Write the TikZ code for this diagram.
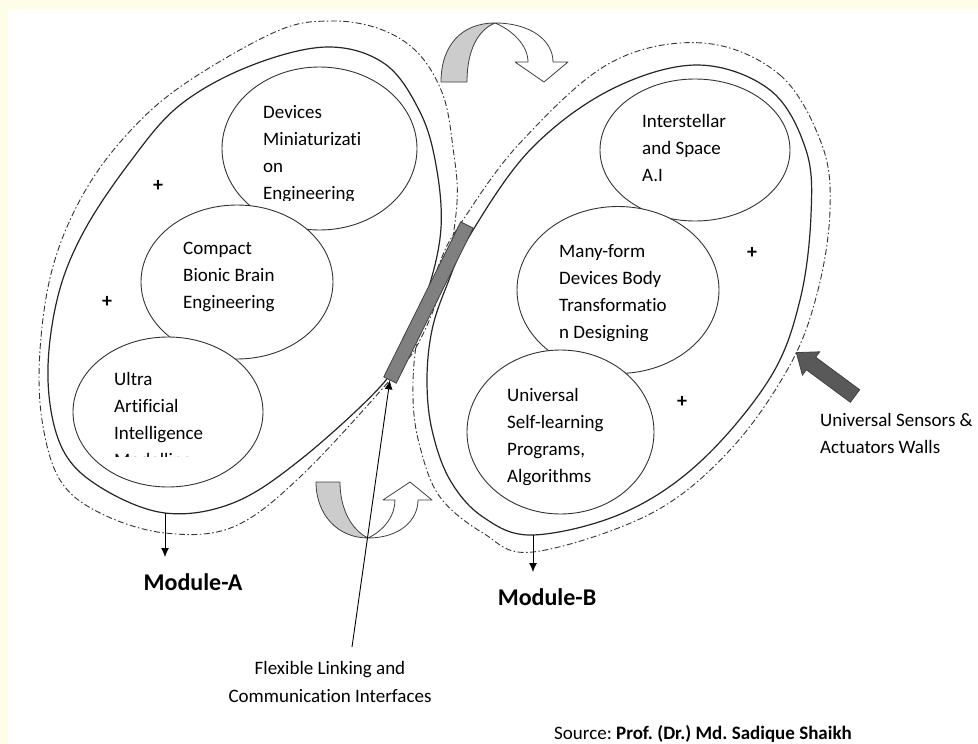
\documentclass[tikz,border=0pt]{standalone}
\usepackage{fontspec}
\setmainfont{Carlito}[Ligatures={NoCommon}]
\usetikzlibrary{arrows.meta,shapes.geometric}
\definecolor{cream}{RGB}{255,252,232}
\definecolor{barfill}{RGB}{128,128,128}
\definecolor{wallfill}{RGB}{89,89,89}
\definecolor{bandfill}{RGB}{204,204,204}
\definecolor{edge}{RGB}{64,64,64}
\newcommand{\ovaltext}[1]{\parbox[t]{150pt}{\raggedright #1}}
\frenchspacing

\tikzset{
  module/.style={line width=1.2pt, draw=black!85},
  wall/.style={line width=0.9pt, draw=black!80, dash pattern=on 6pt off 2.5pt on 1.5pt off 2.5pt},
  bubble/.style={ellipse, draw=black!80, fill=white, line width=0.9pt, inner sep=0pt},
  bubbletxt/.style={anchor=base west, inner sep=0pt, font=\fontsize{19}{27}\selectfont},
  plus/.style={font=\fontsize{20}{20}\selectfont\bfseries, inner sep=0pt},
  modlabel/.style={font=\fontsize{24}{28}\selectfont\bfseries, inner sep=0pt, anchor=base},
  note/.style={font=\fontsize{19}{27}\selectfont, inner sep=0pt},
  pointer/.style={line width=0.9pt, -{Latex[length=9pt,width=8pt]}},
  band/.style={draw=edge, line width=0.8pt, line join=round},
}

\begin{document}
\begin{tikzpicture}[x=1pt,y=-1pt]
    \useasboundingbox (0,0) rectangle (978,744);
    \fill[cream] (0,0) rectangle (978,744);
    \fill[white] (8,9) rectangle (978,744);

    % module A : solid wall and dash-dot sensor wall
    \draw[module] plot[smooth cycle, tension=0.6] coordinates {(327,47) (385,64) (420,112) (436,165)
      (441,228) (428,290) (405,345) (380,387) (300,460) (233,503) (165,513) (100,487) (62,448)
      (48,380) (57,300) (83,233) (130,162) (180,105) (250,66)};
    \draw[wall] plot[smooth cycle, tension=0.6] coordinates {(330,21) (380,29) (418,53) (443,95)
      (453,148) (457,202) (445,275) (420,340) (390,380) (300,477) (233,527) (165,533) (100,513)
      (60,480) (42,420) (40,350) (52,270) (80,200) (122,140) (180,87) (275,32)};

    % module B
    \draw[module] plot[smooth cycle, tension=0.6] coordinates {(697,65) (770,90) (806,150) (811,215)
      (800,300) (770,378) (700,462) (623,513) (533,535) (483,517) (450,480) (432,430) (427,380)
      (432,330) (447,285) (470,235) (530,150) (610,90)};
    \draw[wall] plot[smooth cycle, tension=0.6] coordinates {(703,43) (780,75) (822,145) (830,210)
      (818,290) (790,365) (730,450) (650,514) (533,552) (483,533) (440,497) (420,447) (413,397)
      (418,335) (440,262) (463,220) (520,143) (610,63)};

    % curved arrows
    \filldraw[band, fill=bandfill] (441,82) .. controls (441,45) and (462,23) .. (495,23)
      .. controls (478,30) and (467,50) .. (467,82) -- cycle;
    \filldraw[band, fill=white] (495,23) .. controls (530,23) and (553,40) .. (553,62)
      -- (568,62) -- (544,82) -- (515,62) -- (528,62) .. controls (528,45) and (512,30) .. (495,23) -- cycle;
    \filldraw[band, fill=bandfill] (316,482) .. controls (316,515) and (338,538) .. (368,538)
      .. controls (352,530) and (340,510) .. (340,482) -- cycle;
    \filldraw[band, fill=white] (368,538) .. controls (400,538) and (418,520) .. (418,500)
      -- (432,500) -- (410,482) -- (383,500) -- (395,500) .. controls (395,515) and (385,530) .. (368,538) -- cycle;

    % bubbles of module A
    \node[bubble, minimum width=195, minimum height=163] (dev) at (319.5,148.5) {};
    \begin{scope}
      \clip (220,90) rectangle (420,200);
      \node[bubbletxt] (devtxt) at (263,118) {\ovaltext{Devices\\Miniaturizati\\on\\Engineering}};
    \end{scope}
    \node[bubble, minimum width=192, minimum height=154] (bionic) at (237,282) {};
    \node[bubbletxt] (bionictxt) at (183,254) {\ovaltext{Compact\\Bionic Brain\\Engineering}};
    \node[bubble, minimum width=190, minimum height=150] (ultra) at (168,412) {};
    \begin{scope}
      \clip (70,360) rectangle (265,456.5);
      \node[bubbletxt] (ultratxt) at (114,385) {\ovaltext{Ultra\\Artificial\\Intelligence\\Modelling}};
    \end{scope}

    % bubbles of module B
    \node[bubble, minimum width=190, minimum height=142] (space) at (695,150) {};
    \node[bubbletxt] (spacetxt) at (642,127) {\ovaltext{Interstellar\\and Space\\A.I}};
    \node[bubble, minimum width=202, minimum height=167] (morph) at (618,290) {};
    \begin{scope}
      \clip (515,230) rectangle (720,340);
      \node[bubbletxt] (morphtxt) at (559,257) {\ovaltext{Many-form\\Devices Body\\Transformatio\\n Designing}};
    \end{scope}
    \node[bubble, minimum width=187, minimum height=164] (learn) at (560.5,432) {};
    \begin{scope}
      \clip (465,375) rectangle (655,484);
      \node[bubbletxt] (learntxt) at (507,401) {\ovaltext{Universal\\Self-learning\\Programs,\\Algorithms}};
    \end{scope}

    \node[plus] (plusa) at (158,186) {+};
    \node[plus] (plusb) at (107,302) {+};
    \node[plus] (plusc) at (752,253) {+};
    \node[plus] (plusd) at (682,402) {+};

    % linking interface
    \node[draw=edge, fill=barfill, line width=0.8pt, minimum width=173, minimum height=14,
      inner sep=0pt, rotate=63.6] (link) at (428.5,302.5) {};

    % sensors & actuators wall arrow
    \filldraw[draw=edge, fill=wallfill, line width=0.8pt, shift={(855,396)}, rotate=143.5]
      (0,-7.8) -- (54.7,-7.8) -- (54.7,-14.5) -- (73,0) -- (54.7,14.5) -- (54.7,7.8) -- (0,7.8) -- cycle;

    % labels
    \node[modlabel] (modA) at (193,590) {Module-A};
    \node[modlabel] (modB) at (547,605) {Module-B};
    \coordinate (modAbot) at (165,513);
    \coordinate (modAtip) at (165,557);
    \coordinate (modBbot) at (533,535);
    \coordinate (modBtip) at (533,572);
    \draw[pointer] (modAbot) -- (modAtip);
    \draw[pointer] (modBbot) -- (modBtip);

    \node[note, align=center, anchor=north] (flex) at (330,661) {Flexible Linking and\\[1pt]Communication Interfaces};
    \coordinate (flexstart) at (352,647);
    \draw[pointer] (flexstart) -- (link.west);

    \node[note, align=left, anchor=north west] (walls) at (820,413) {Universal Sensors \&\\Actuators Walls};
    \node[note, anchor=base west] (source) at (554,739) {Source: \textbf{Prof. (Dr.) Md. Sadique Shaikh}};
\end{tikzpicture}
\end{document}
